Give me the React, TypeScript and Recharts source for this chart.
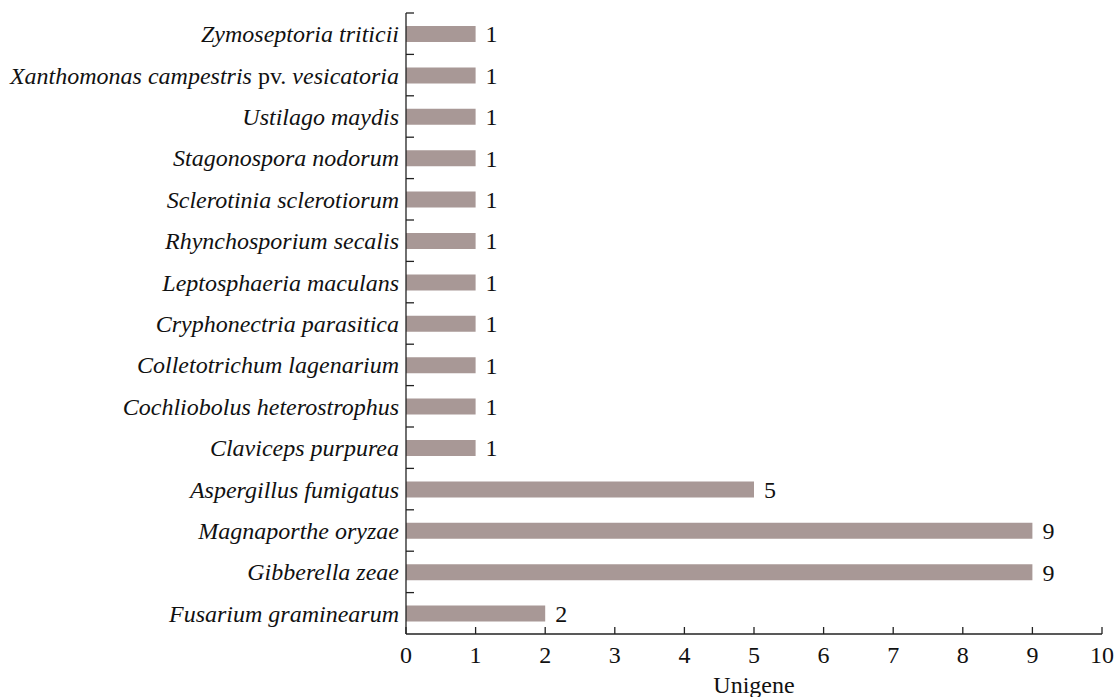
import React from "react";
import { BarChart, Bar, XAxis, YAxis, LabelList } from "recharts";

const categories = [
  "Zymoseptoria triticii",
  "Xanthomonas campestris pv. vesicatoria",
  "Ustilago maydis",
  "Stagonospora nodorum",
  "Sclerotinia sclerotiorum",
  "Rhynchosporium secalis",
  "Leptosphaeria maculans",
  "Cryphonectria parasitica",
  "Colletotrichum lagenarium",
  "Cochliobolus heterostrophus",
  "Claviceps purpurea",
  "Aspergillus fumigatus",
  "Magnaporthe oryzae",
  "Gibberella zeae",
  "Fusarium graminearum",
];
const unigeneCounts = [1, 1, 1, 1, 1, 1, 1, 1, 1, 1, 1, 5, 9, 9, 2];
const xTicks = [0, 1, 2, 3, 4, 5, 6, 7, 8, 9, 10];
const xAxisTitle = "Unigene";

const data = categories.map((name, i) => ({ name, value: unigeneCounts[i] }));

const FONT = "'Liberation Serif', 'Times New Roman', Times, serif";
const FS = 24;
const W = 1119;
const H = 697;
const M = { top: 13, right: 17, left: 0, bottom: 0 };
const Y_AXIS_W = 406;
const X_AXIS_H = 63;
const BAND = (H - M.top - M.bottom - X_AXIS_H) / categories.length;

const textStyle = { fontFamily: FONT, fontSize: FS, fill: "#111" };

const YTick = (props: any) => {
  const { x, y, payload } = props;
  const label: string = payload.value;
  const parts = label.split(" pv. ");
  return (
    <g>
      <line x1={x} x2={x + 8} y1={y - BAND / 2} y2={y - BAND / 2} stroke="#222" strokeWidth={1.3} />
      <text x={x - 7} y={y} dy="0.35em" textAnchor="end" style={textStyle}>
        {parts.length === 2 ? (
          <>
            <tspan style={{ fontStyle: "italic" }}>{parts[0]}</tspan>
            <tspan> pv. </tspan>
            <tspan style={{ fontStyle: "italic" }}>{parts[1]}</tspan>
          </>
        ) : (
          <tspan style={{ fontStyle: "italic" }}>{label}</tspan>
        )}
      </text>
    </g>
  );
};

const XTick = (props: any) => {
  const { x, y, payload } = props;
  return (
    <g>
      <line x1={x} x2={x} y1={y} y2={y - 7} stroke="#222" strokeWidth={1.3} />
      <text x={x} y={y + 21} dy="0.35em" textAnchor="middle" style={textStyle}>
        {payload.value}
      </text>
    </g>
  );
};

const ValueLabel = (props: any) => {
  const { x, y, width, height, value } = props;
  return (
    <text x={x + width + 10} y={y + height / 2} dy="0.35em" textAnchor="start" style={textStyle}>
      {value}
    </text>
  );
};

export default function App() {
  return (
    <div style={{ position: "absolute", left: 0, top: 0, width: W, height: H, background: "#fff" }}>
      <BarChart width={W} height={H} data={data} layout="vertical" margin={M}>
        <XAxis
          type="number"
          domain={[0, 10]}
          ticks={xTicks}
          interval={0}
          height={X_AXIS_H}
          tickSize={0}
          tickMargin={0}
          tickLine={false}
          tick={<XTick />}
          axisLine={{ stroke: "#222", strokeWidth: 1.3 }}
          label={{ value: xAxisTitle, position: "insideBottom", offset: 4, style: textStyle }}
        />
        <YAxis
          type="category"
          dataKey="name"
          width={Y_AXIS_W}
          interval={0}
          tickSize={0}
          tickMargin={0}
          tickLine={false}
          tick={<YTick />}
          axisLine={{ stroke: "#222", strokeWidth: 1.3 }}
        />
        <Bar dataKey="value" fill="#a89896" barSize={16} isAnimationActive={false}>
          <LabelList dataKey="value" content={<ValueLabel />} />
        </Bar>
      </BarChart>
    </div>
  );
}
